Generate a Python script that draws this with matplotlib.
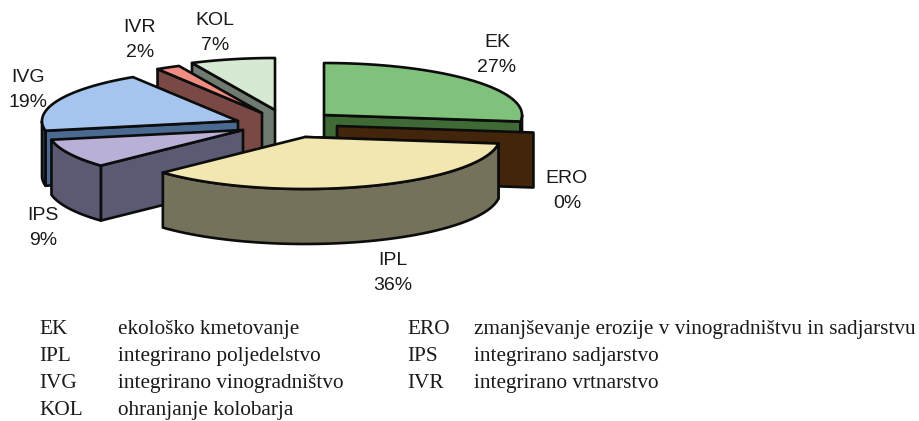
import numpy as np
import matplotlib
matplotlib.use("Agg")
import matplotlib.pyplot as plt
from matplotlib.patches import Polygon

# shares of each measure, clockwise from 12 o'clock
codes = ["EK", "ERO", "IPL", "IPS", "IVG", "IVR", "KOL"]
shares = [27, 0, 36, 9, 19, 2, 7]

legend_codes = ["EK", "IPL", "IVG", "KOL", "ERO", "IPS", "IVR"]
legend_names = ["ekološko kmetovanje", "integrirano poljedelstvo",
                "integrirano vinogradništvo", "ohranjanje kolobarja",
                "zmanjševanje erozije v vinogradništvu in sadjarstvu",
                "integrirano sadjarstvo", "integrirano vrtnarstvo"]

# look of the fake 3d pie (pixels)
top_colors = {"EK": "#80c27c", "ERO": "#7a4a1c", "IPL": "#f2e7b0", "IPS": "#b8b0d6",
              "IVG": "#a5c5ee", "IVR": "#f08c82", "KOL": "#d6e9d2"}
wall_colors = {"EK": "#3f6a36", "ERO": "#43250b", "IPL": "#75725c", "IPS": "#5a5a72",
               "IVG": "#4a6a92", "IVR": "#7a4946", "KOL": "#6f7b70"}
rim_colors = dict(wall_colors, IVG="#2f4a5c")
apex = {"EK": (324, 115), "ERO": (337, 126), "IPL": (305, 137), "IPS": (243, 130),
        "IVG": (238, 121), "IVR": (262, 113), "KOL": (275, 110)}
rx_px = {"EK": 198, "ERO": 198, "IPL": 195, "IPS": 195, "IVG": 196, "IVR": 195, "KOL": 195}
ry_px = 52
depth = 55
draw_order = ["KOL", "IVR", "IVG", "IPS", "EK", "ERO", "IPL"]
# baseline of the code, the percentage sits 25 px lower
label_pos = {"EK": (497, 47), "ERO": (567, 183), "IPL": (393, 265), "IPS": (43, 220),
             "IVG": (28, 82), "IVR": (140, 32), "KOL": (215, 25)}

fig = plt.figure(figsize=(9.2, 4.21), dpi=100)
ax = fig.add_axes([0, 0, 1, 1])
ax.set_xlim(0, 920)
ax.set_ylim(421, 0)
ax.axis("off")

edges = np.cumsum([0] + shares) * 3.6
start = dict(zip(codes, edges[:-1]))
end = dict(zip(codes, edges[1:]))


def rim(code, a, b):
    t = np.radians(np.linspace(a, b, 60))
    cx, cy = apex[code]
    return np.column_stack([cx + rx_px[code] * np.sin(t), cy - ry_px * np.cos(t)])


def poly(points, color):
    ax.add_patch(Polygon(points, closed=True, facecolor=color, edgecolor="#0c0c0c",
                         linewidth=1.9, joinstyle="round"))


for code in draw_order:
    a, b = start[code], end[code]
    # the cut face that looks towards the viewer
    p = rim(code, b if b < 180 else a, a)[0]
    c = np.array(apex[code], dtype=float)
    poly([c, p, p + [0, depth], c + [0, depth]], wall_colors[code])
    # outer rim, only the part on the near side
    lo, hi = max(a, 90), min(b, 270)
    if hi > lo:
        arc = rim(code, lo, hi)
        poly(np.vstack([arc, arc[::-1] + [0, depth]]), rim_colors[code])
    if b > a:
        poly(np.vstack([[apex[code]], rim(code, a, b)]), top_colors[code])

for code, share in zip(codes, shares):
    x, y = label_pos[code]
    ax.text(x, y, code, family="Liberation Sans", fontsize=14, color="#1a1a1a",
            ha="center", va="baseline")
    ax.text(x, y + 25, f"{share}%", family="Liberation Sans", fontsize=14, color="#1a1a1a",
            ha="center", va="baseline")

row_y = [334, 361, 388, 415, 334, 361, 388]
code_x = [39, 39, 39, 39, 407, 407, 407]
name_x = [118, 118, 118, 118, 474, 474, 474]
for c, n, y, x0, x1 in zip(legend_codes, legend_names, row_y, code_x, name_x):
    ax.text(x0, y, c, family="Liberation Serif", fontsize=15.3, color="#1a1a1a", va="baseline")
    ax.text(x1, y, n, family="Liberation Serif", fontsize=15.3, color="#1a1a1a", va="baseline")

fig.savefig("out.png", dpi=100, facecolor="white")
